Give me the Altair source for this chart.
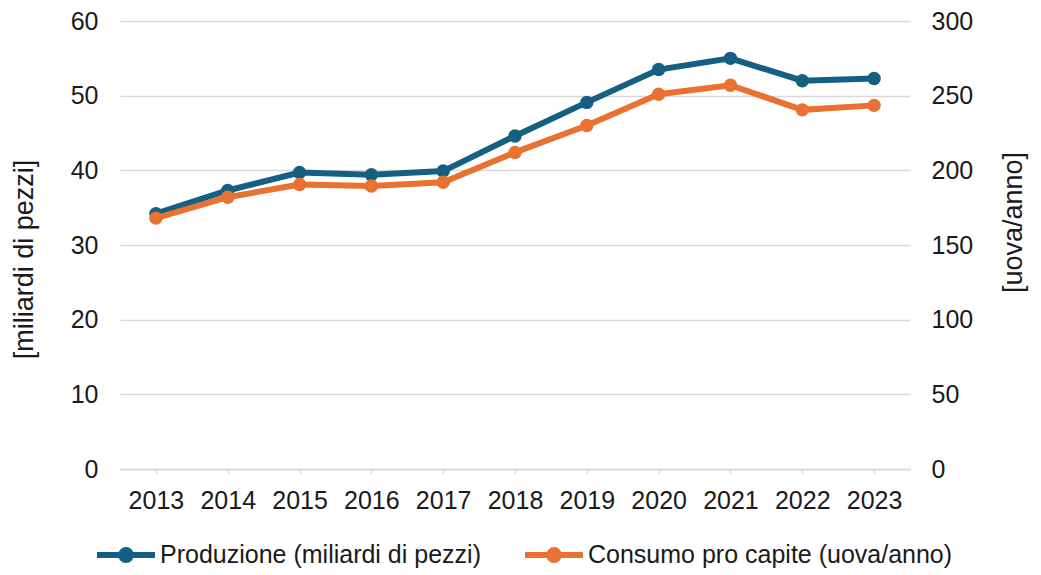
import altair as alt
import pandas as pd

anni = ["2013", "2014", "2015", "2016", "2017", "2018", "2019", "2020", "2021", "2022", "2023"]
produzione = [34.2, 37.3, 39.7, 39.4, 39.9, 44.6, 49.1, 53.5, 55.0, 52.0, 52.3]
consumo = [168, 182, 190.5, 189.5, 192, 212, 230, 251, 257, 240.5, 243.5]

serie_prod = "Produzione (miliardi di pezzi)"
serie_cons = "Consumo pro capite (uova/anno)"
colori = ["#156082", "#e97132"]

left_ticks = [0, 10, 20, 30, 40, 50, 60]
right_ticks = [0, 50, 100, 150, 200, 250, 300]

df = pd.DataFrame({"anno": anni, "produzione": produzione, "consumo": consumo})

FONT = "Liberation Sans"
TXT = "#1a1a1a"
GRID = "#d9d9d9"

color_scale = alt.Scale(domain=[serie_prod, serie_cons], range=colori)

legend_path = ("M-1,0H1"
               "M0.1,0A0.1,0.1,0,1,1,-0.1,0A0.1,0.1,0,1,1,0.1,0"
               "M0.17,0A0.17,0.17,0,1,1,-0.17,0A0.17,0.17,0,1,1,0.17,0")

legend = alt.Legend(
    title=None, orient="none", direction="horizontal",
    legendX=-26, legendY=502,
    symbolType=legend_path, symbolSize=3364, symbolStrokeWidth=6,
    labelFont=FONT, labelFontSize=25, labelColor=TXT, labelOffset=2,
    columnPadding=32, padding=0, labelLimit=600,
)

x_enc = alt.X(
    "anno:N", sort=anni,
    axis=alt.Axis(
        title=None, labelAngle=0, labelFont=FONT, labelFontSize=25, labelColor=TXT,
        domainColor=GRID, domainWidth=1.5, tickColor=GRID, tickWidth=1.5, tickSize=5,
        labelPadding=14, grid=False,
    ),
)

base = alt.Chart(df)

prod_layer = base.transform_calculate(serie=f"'{serie_prod}'").mark_line(
    strokeWidth=6, point=alt.OverlayMarkDef(filled=True, size=180, opacity=1)
).encode(
    x=x_enc,
    y=alt.Y(
        "produzione:Q",
        scale=alt.Scale(domain=[0, 60], nice=False, zero=True),
        axis=alt.Axis(
            orient="left", values=left_ticks, title="[miliardi di pezzi]",
            domain=False, ticks=False, tickSize=0, labelPadding=22,
            labelFont=FONT, labelFontSize=25, labelColor=TXT,
            grid=True, gridColor=GRID, gridWidth=1.5,
            titleFont=FONT, titleFontSize=27, titleFontWeight="normal", titleColor=TXT,
            titleAngle=270, titleX=-96, titleY=238, titleAlign="center", titleBaseline="middle",
        ),
    ),
    color=alt.Color("serie:N", scale=color_scale, legend=legend),
)

cons_layer = base.transform_calculate(serie=f"'{serie_cons}'").mark_line(
    strokeWidth=6, point=alt.OverlayMarkDef(filled=True, size=180, opacity=1)
).encode(
    x=x_enc,
    y=alt.Y(
        "consumo:Q",
        scale=alt.Scale(domain=[0, 300], nice=False, zero=True),
        axis=alt.Axis(
            orient="right", values=right_ticks, title="[uova/anno]",
            domain=False, ticks=False, tickSize=0, labelPadding=21,
            labelFont=FONT, labelFontSize=25, labelColor=TXT, grid=False,
            titleFont=FONT, titleFontSize=27, titleFontWeight="normal", titleColor=TXT,
            titleAngle=270, titleX=103, titleY=201, titleAlign="center", titleBaseline="middle",
        ),
    ),
    color=alt.Color("serie:N", scale=color_scale, legend=legend),
)

chart = alt.layer(prod_layer, cons_layer).resolve_scale(y="independent").properties(
    width=790, height=448,
    padding={"left": 112, "top": 13, "right": 123, "bottom": 100},
    autosize=alt.AutoSizeParams(type="none"),
    background="white",
).configure_view(stroke=None)

chart.save("out.html", embed_options={"renderer": "svg", "actions": False})
